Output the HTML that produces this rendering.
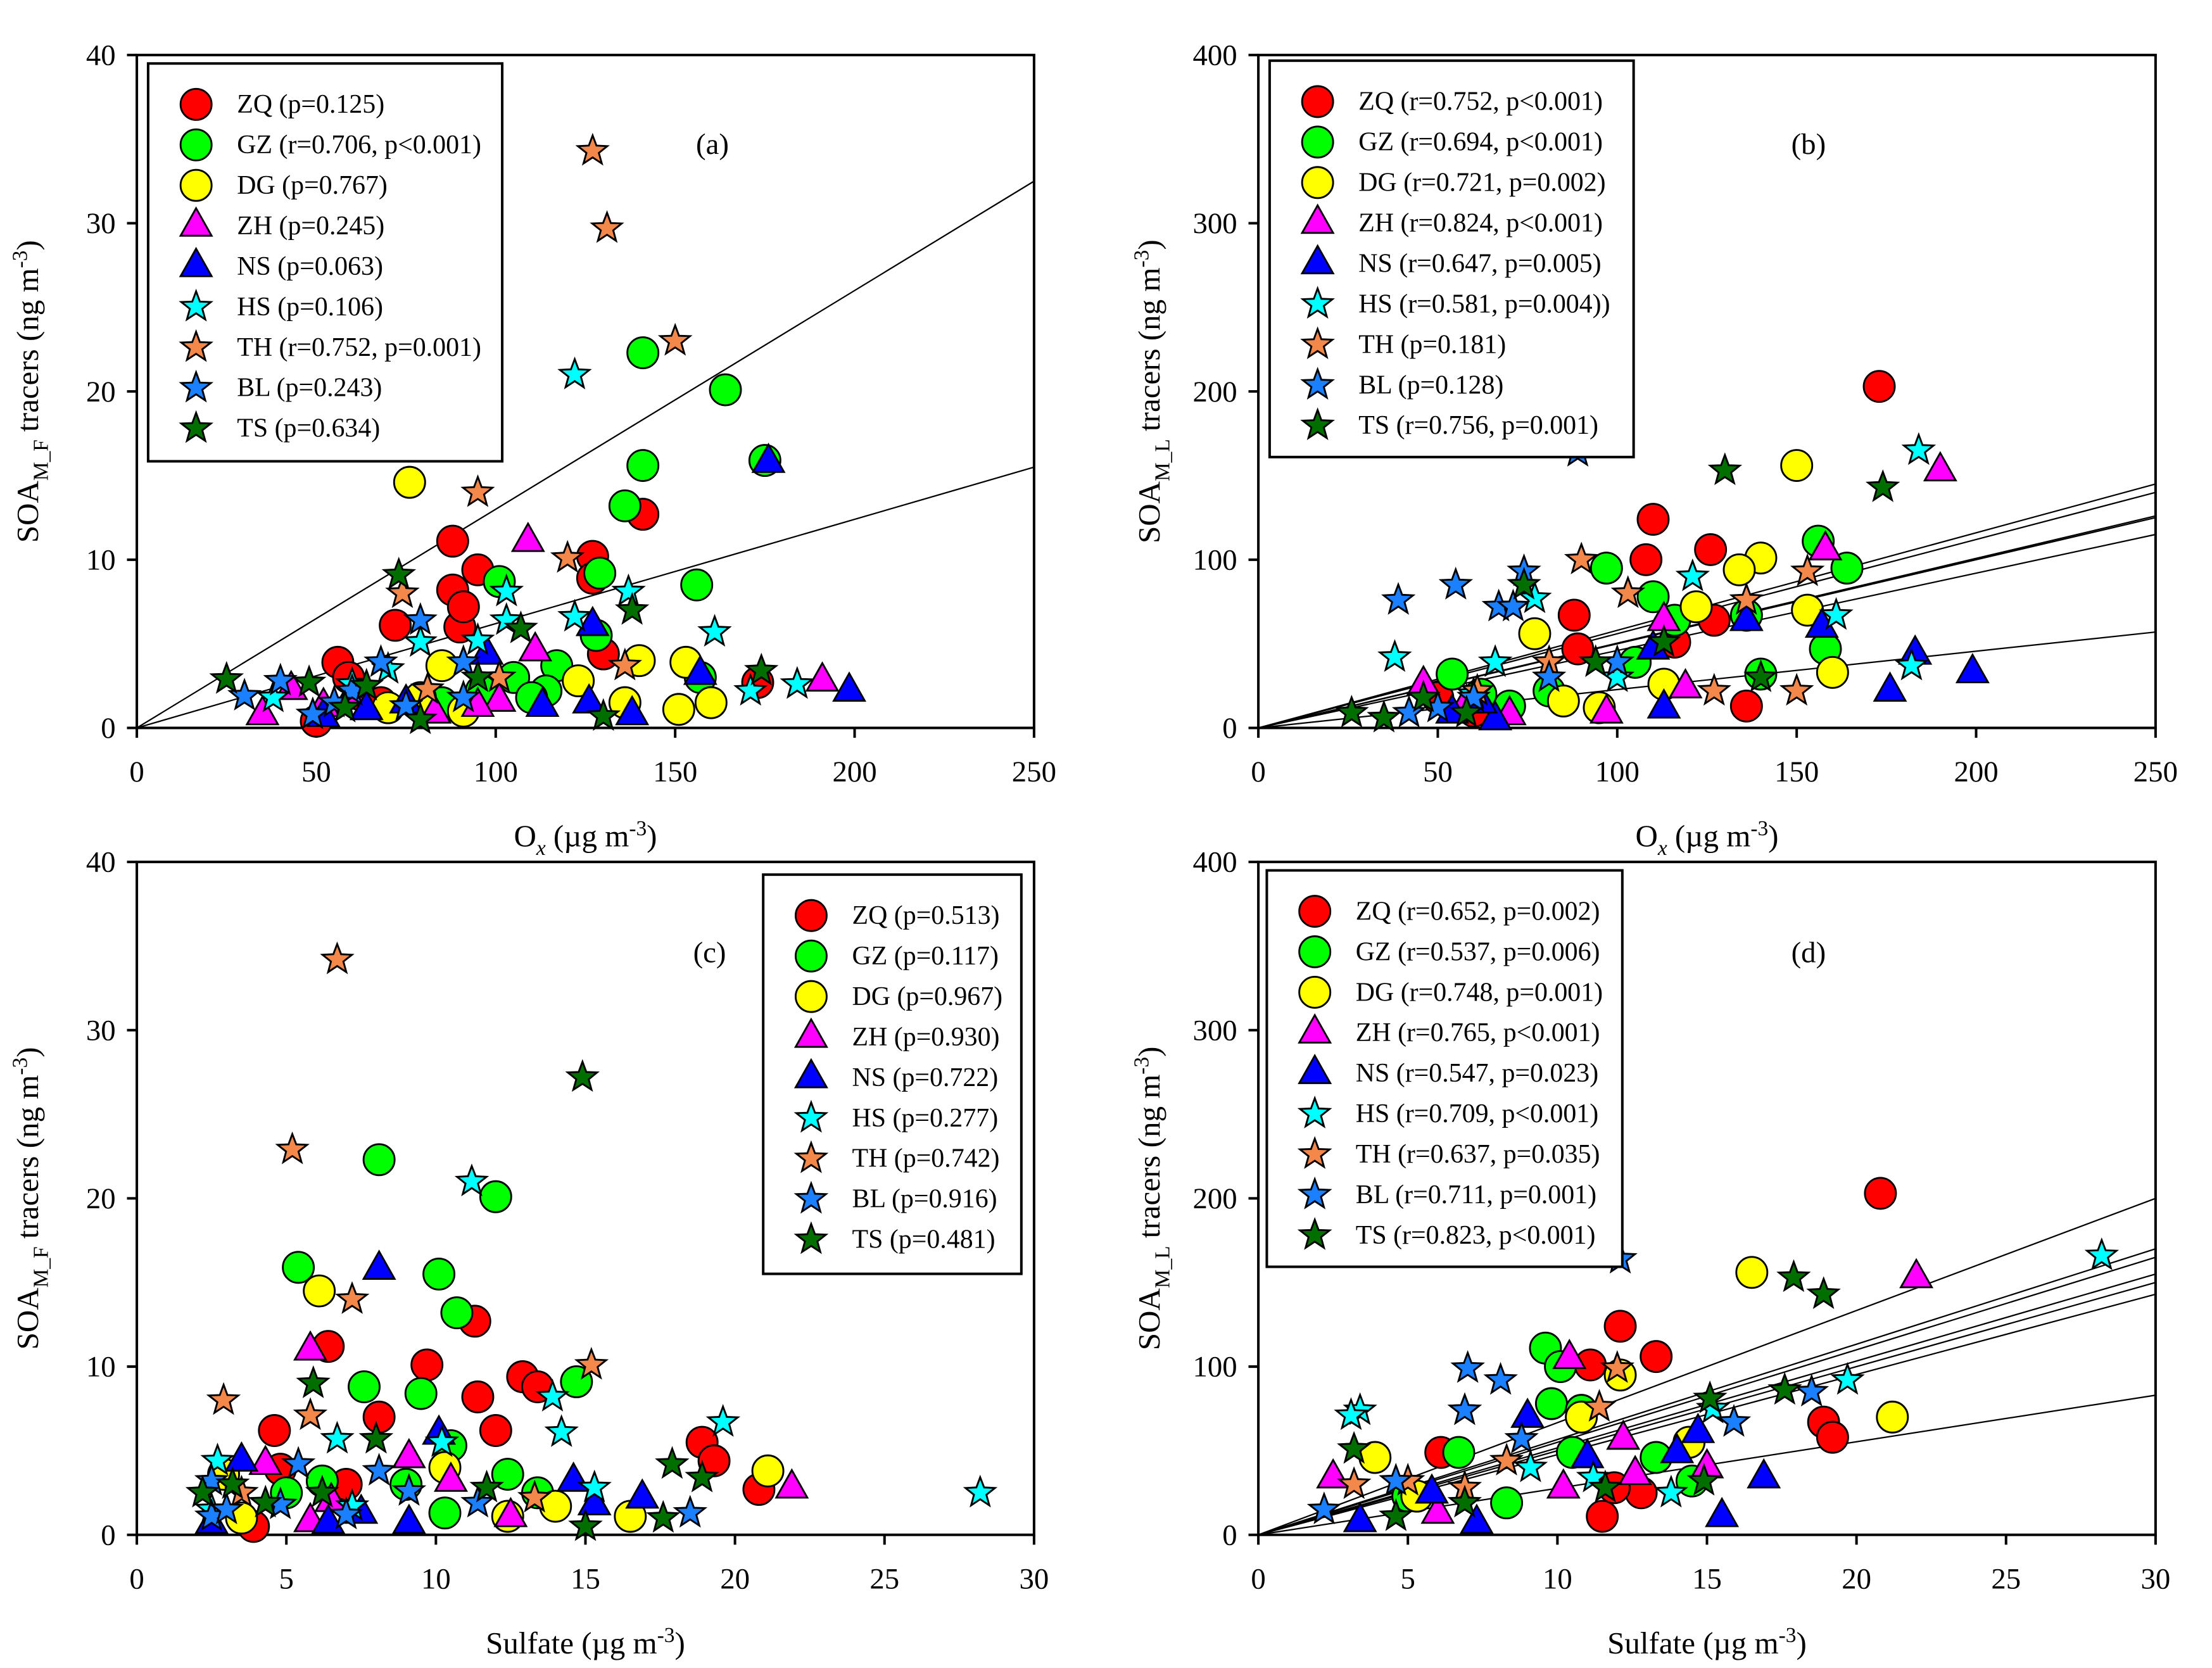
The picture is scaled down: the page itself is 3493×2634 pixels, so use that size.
<!DOCTYPE html>
<html><head><meta charset="utf-8"><style>
html,body{margin:0;padding:0;background:#fff;}
svg{display:block;}
svg text{font-family:"Liberation Serif","Times New Roman",serif;}
</style></head><body>
<svg id="fig" width="3493" height="2634" viewBox="0 0 1568 1182.4" preserveAspectRatio="none" xmlns="http://www.w3.org/2000/svg">
<rect x="0" y="0" width="1568" height="1183" fill="#fff"/>
</svg>
<script>
// ---- data ----
const seriesNames = ["ZQ","GZ","DG","ZH","NS","HS","TH","BL","TS"];
// Panel a: Ox vs SOA_M_F
const aZQx=[88,95,88,127,127,141,72,90,91,56,59,130,173,50,62,68], aZQy=[11.1,9.4,8.2,10.2,8.9,12.7,6.1,6.0,7.2,3.9,3.0,4.4,2.7,0.4,2.0,1.5];
const aGZx=[141,164,141,175,136,101,129,156,128,117,96,105,114,157,85,110], aGZy=[22.3,20.1,15.6,15.9,13.2,8.7,9.2,8.5,5.5,3.7,2.2,3.0,2.2,3.0,1.5,1.8];
const aDGx=[76,85,140,153,123,136,151,160,91,79,70], aDGy=[14.6,3.7,4.0,3.9,2.8,1.5,1.1,1.5,1.0,1.8,1.2];
const aZHx=[109,111,191,101,95,83,35,43,52,60], aZHy=[11.1,4.6,2.8,1.6,1.3,0.9,0.8,2.3,1.3,2.0];
const aNSx=[176,127,97.5,157,198.5,126,138,113,64,52,75], aNSy=[15.8,6.1,4.4,3.2,2.2,1.5,0.8,1.3,1.1,0.7,1.5];
const aHSx=[122,137,161,103,95,103,184,171,122,79,38,60,70], aHSy=[21,8.1,5.7,8.1,5.2,6.4,2.6,2.2,6.6,5.1,1.8,2.6,3.5];
const aTHx=[127,131,150,95,74,120,136,101,81], aTHy=[34.3,29.7,23.0,14.0,8.0,10.1,3.7,3.0,2.3];
const aBLx=[79,91,68,60,30,40,49,75,91,55], aBLy=[6.4,3.9,3.9,2.2,1.9,2.8,0.8,1.3,1.8,1.5];
const aTSx=[73,138,107,174,25,130,95,64,48,79,58], aTSy=[9.1,7.0,5.9,3.4,2.9,0.7,3.0,2.5,2.7,0.5,1.2];
const aFitEnd=[32.5,15.5];
// Panel b: Ox vs SOA_M_L
const bZQx=[173,110,126,108,88,136,127,116,89,50,60], bZQy=[203,124,106,100,67,13,64,51,47,18,10];
const bGZx=[156,164,97,110,116,140,158,54,81,136,105,70,62], bGZy=[111,95,95,78,64,32,47,32,22,67,39,13,20];
const bDGx=[150,140,134,122,153,160,77,85,113,95], bDGy=[156,101,94,72,70,33,56,16,26,12];
const bZHx=[190,158,113,119,97,58,46,70], bZHy=[153,106,64,24,9,15,26,8];
const bNSx=[199,183,176,157,113,136,110,66,54,62], bNSy=[33,44,22,60,12,64,47,5,9,15];
const bHSx=[184,161,182,121,77,38,100,66,60], bHSy=[165,67,37,90,77,42,30,39,20];
const bTHx=[90,103,153,150,136,127,81,61], bTHy=[100,80,93,22,76,22,39,22];
const bBLx=[39,55,67,71,74,89,42,60,81,100,50], bBLy=[76,85,72,72,93,164,9,18,30,39,12];
const bTSx=[130,174,74,94,26,46,58,113,140,35], bTSy=[153,143,85,39,9,18,9,51,30,6];
const bFitEnd=[145,140,126,125,115,57];
// Panel c: Sulfate vs SOA_M_F
const cZQx=[11.3,6.4,9.7,12.9,13.4,11.4,8.1,4.6,12.0,18.9,19.3,20.8,4.8,3.9,7.0], cZQy=[12.7,11.2,10.1,9.4,8.8,8.2,7.0,6.2,6.2,5.5,4.4,2.7,3.9,0.5,3.0];
const cGZx=[8.1,12.0,5.4,10.1,10.7,7.6,9.5,14.7,10.5,12.4,13.4,10.3,6.2,5.0,9.0], cGZy=[22.3,20.1,15.9,15.5,13.2,8.8,8.4,9.1,5.3,3.6,2.5,1.3,3.2,2.5,3.0];
const cDGx=[6.1,21.1,16.5,14.0,10.3,2.9,12.4,3.5], cDGy=[14.5,3.8,1.1,1.7,4.0,3.6,1.1,1.0];
const cZHx=[5.8,21.9,9.1,10.5,4.3,12.5,5.8,6.5], cZHy=[11.0,2.8,4.6,3.2,4.2,1.1,0.8,2.0];
const cNSx=[8.1,10.1,14.6,16.9,15.3,9.1,6.4,3.5,2.5,7.5], cNSy=[15.8,6.0,3.2,2.2,1.8,0.7,0.7,4.4,0.7,1.3];
const cHSx=[28.2,11.2,13.9,14.2,19.6,15.3,10.2,6.7,2.7,7.2,2.5], cHSy=[2.5,21.0,8.2,6.1,6.7,2.8,5.5,5.7,4.4,1.7,1.5];
const cTHx=[6.7,5.2,7.2,15.2,2.9,5.8,13.3,3.5], cTHy=[34.2,22.9,14.0,10.1,8.0,7.1,2.2,2.5];
const cBLx=[18.5,9.1,8.1,5.4,2.5,4.8,11.4,2.5,7.0,3.0], cBLy=[1.3,2.6,3.8,4.2,3.2,1.8,1.9,1.1,1.2,1.5];
const cTSx=[14.9,5.9,8.0,17.9,18.9,17.6,15.0,2.2,11.7,4.3,6.2,3.2], cTSy=[27.2,9.0,5.7,4.2,3.4,1.0,0.5,2.5,2.8,1.9,2.5,3.0];
// Panel d: Sulfate vs SOA_M_L
const dZQx=[20.8,12.1,13.3,11.1,18.9,19.2,11.5,12.8,11.9,6.1], dZQy=[203,124,106,101,67,58,11,25,28,49];
const dGZx=[9.6,10.1,9.8,10.8,10.5,13.3,14.5,8.3,6.7,5.0], dGZy=[111,100,78,74,49,46,32,19,49,23];
const dDGx=[16.5,21.2,12.1,10.8,14.4,3.9,5.3], dDGy=[156,70,95,70,55,46,23];
const dZHx=[22.0,10.4,12.2,10.2,12.6,15.0,2.5,6.0], dZHy=[153,105,57,28,36,40,34,13];
const dNSx=[16.9,15.5,14.0,14.7,11.0,9.0,7.3,5.8,3.4], dNSy=[34,11,49,61,46,70,7,25,8];
const dHSx=[28.2,19.7,15.2,13.8,9.1,3.4,3.1,6.9,11.2], dHSy=[166,92,75,25,40,74,71,74,34];
const dTHx=[12.0,11.4,6.9,5.0,3.2,8.3], dTHy=[99,76,28,32,30,44];
const dBLx=[12.1,7.0,8.1,18.5,15.9,6.9,8.8,4.6,2.2], dBLy=[164,99,92,85,67,74,57,32,15];
const dTSx=[17.9,18.9,17.6,15.1,14.9,3.2,11.6,4.6,6.9], dTSy=[153,143,86,81,32,51,28,11,19];
const dFitEnd=[200,170,165,155,150,143,83];
const xTicksOx=[0,50,100,150,200,250], xTicksSul=[0,5,10,15,20,25,30];
const yTicksF=[0,10,20,30,40], yTicksL=[0,100,200,300,400];
const legA=["ZQ (p=0.125)","GZ (r=0.706, p<0.001)","DG (p=0.767)","ZH (p=0.245)","NS (p=0.063)","HS (p=0.106)","TH (r=0.752, p=0.001)","BL (p=0.243)","TS (p=0.634)"];
const legB=["ZQ (r=0.752, p<0.001)","GZ (r=0.694, p<0.001)","DG (r=0.721, p=0.002)","ZH (r=0.824, p<0.001)","NS (r=0.647, p=0.005)","HS (r=0.581, p=0.004))","TH (p=0.181)","BL (p=0.128)","TS (r=0.756, p=0.001)"];
const legC=["ZQ (p=0.513)","GZ (p=0.117)","DG (p=0.967)","ZH (p=0.930)","NS (p=0.722)","HS (p=0.277)","TH (p=0.742)","BL (p=0.916)","TS (p=0.481)"];
const legD=["ZQ (r=0.652, p=0.002)","GZ (r=0.537, p=0.006)","DG (r=0.748, p=0.001)","ZH (r=0.765, p<0.001)","NS (r=0.547, p=0.023)","HS (r=0.709, p<0.001)","TH (r=0.637, p=0.035)","BL (r=0.711, p=0.001)","TS (r=0.823, p<0.001)"];

// ---- drawing ----
const NS="http://www.w3.org/2000/svg";
const svg=document.getElementById('fig');
const colors=["#ff0000","#00ff00","#ffff00","#ff00ff","#0000ff","#00ffff","#f4884a","#1a80ff","#006f00"];
const shapes=["c","c","c","t","t","s","s","s","s"];
function el(tag,attrs,parent){const e=document.createElementNS(NS,tag);for(const k in attrs)e.setAttribute(k,attrs[k]);(parent||svg).appendChild(e);return e;}
function starPath(cx,cy,R){let d="";const r=R*0.42;for(let i=0;i<10;i++){const a=-Math.PI/2+i*Math.PI/5;const rr=i%2?r:R;d+=(i?"L":"M")+(cx+rr*Math.cos(a)).toFixed(1)+","+(cy+rr*Math.sin(a)).toFixed(1);}return d+"Z";}
function marker(g,k,x,y){
  const c=colors[k];let m;
  if(shapes[k]==="c") m=el('ellipse',{cx:x,cy:y,rx:11,ry:11,fill:c,stroke:"#000","stroke-width":1.3},g);
  else if(shapes[k]==="t") m=el('polygon',{points:`${x},${y-12.5} ${x+11},${y+7} ${x-11},${y+7}`,fill:c,stroke:"#000","stroke-width":1.3},g);
  else m=el('path',{d:starPath(x,y,11),fill:c,stroke:"#000","stroke-width":1.3},g);
  return m;
}
function panel(P){
  const g=el('g',{});
  
  
  const sx=v=>P.x0+(v-P.xmin)/(P.xmax-P.xmin)*(P.x1-P.x0);
  const sy=v=>P.y0-(v-P.ymin)/(P.ymax-P.ymin)*(P.y0-P.y1);
  const fr=el('rect',{x:P.x0,y:P.y1,width:P.x1-P.x0,height:P.y0-P.y1,fill:"none",stroke:"#000","stroke-width":1.8},g);
  
  
  P.xt.forEach(v=>{const X=sx(v);el('line',{x1:X,y1:P.y0,x2:X,y2:P.y0+7,stroke:"#000","stroke-width":1.8},g);
    const t=el('text',{x:X,y:P.y0+38,"text-anchor":"middle","font-size":21},g);t.textContent=v;
    
    });
  P.yt.forEach(v=>{const Y=sy(v);el('line',{x1:P.x0-7,y1:Y,x2:P.x0,y2:Y,stroke:"#000","stroke-width":1.8},g);
    const t=el('text',{x:P.x0-15,y:Y+7,"text-anchor":"end","font-size":21},g);t.textContent=v;
    
    });
  (P.fits||[]).forEach(v=>{const l=el('line',{x1:sx(0),y1:sy(0),x2:sx(P.xmax),y2:sy(v),stroke:"#000","stroke-width":1},g);
    
    });
  P.data.forEach((s,k)=>{s[0].forEach((xv,i)=>{const m=marker(g,k,sx(xv),sy(s[1][i]));
    
    });});
  const L=P.leg;
  const lb=el('rect',{x:L.x,y:L.y,width:L.w,height:L.h,fill:"#fff",stroke:"#000","stroke-width":1.8},g);
  
  
  P.labels.forEach((s,k)=>{const Y=L.y+29+k*28.7;const lg=el('g',{},g);
    
    
    marker(lg,k,L.x+34,Y);
    const t=el('text',{x:L.x+63,y:Y+6,"font-size":18.8},lg);t.textContent=s;});
  const pl=el('text',{x:P.lab[0],y:P.lab[1],"text-anchor":"middle","font-size":21},g);pl.textContent=P.tag;
  
  
  const xt=el('text',{x:(P.x0+P.x1)/2,y:P.y0+84,"text-anchor":"middle","font-size":22},g);
  xt.innerHTML=P.xtitle;
  
  
  const yt=el('text',{x:0,y:0,"text-anchor":"middle","font-size":22,transform:`translate(${P.x0-70},${(P.y0+P.y1)/2}) rotate(-90)`},g);
  yt.innerHTML=`SOA<tspan font-size="15" dy="7">${P.sub}</tspan><tspan dy="-7"> tracers (ng m</tspan><tspan font-size="15" dy="-8">-3</tspan><tspan dy="8">)</tspan>`;
  
  
}
const oxT=`O<tspan font-size="15" font-style="italic" dy="6">x</tspan><tspan dy="-6"> (µg m</tspan><tspan font-size="15" dy="-8">-3</tspan><tspan dy="8">)</tspan>`;
const sulT=`Sulfate (µg m<tspan font-size="15" dy="-8">-3</tspan><tspan dy="8">)</tspan>`;
panel({name:'panel-a',tag:'(a)',x0:97,x1:733,y0:516,y1:39,xmin:0,xmax:250,ymin:0,ymax:40,xt:xTicksOx,yt:yTicksF,fits:aFitEnd,sub:'M_F',xtitle:oxT,
  data:[[aZQx,aZQy],[aGZx,aGZy],[aDGx,aDGy],[aZHx,aZHy],[aNSx,aNSy],[aHSx,aHSy],[aTHx,aTHy],[aBLx,aBLy],[aTSx,aTSy]],
  leg:{x:105,y:45,w:251,h:282},labels:legA,lab:[505,109]});
panel({name:'panel-b',tag:'(b)',x0:892,x1:1528,y0:516,y1:39,xmin:0,xmax:250,ymin:0,ymax:400,xt:xTicksOx,yt:yTicksL,fits:bFitEnd,sub:'M_L',xtitle:oxT,
  data:[[bZQx,bZQy],[bGZx,bGZy],[bDGx,bDGy],[bZHx,bZHy],[bNSx,bNSy],[bHSx,bHSy],[bTHx,bTHy],[bBLx,bBLy],[bTSx,bTSy]],
  leg:{x:900,y:43,w:258,h:281},labels:legB,lab:[1282,109]});
panel({name:'panel-c',tag:'(c)',x0:97,x1:733,y0:1088,y1:611,xmin:0,xmax:30,ymin:0,ymax:40,xt:xTicksSul,yt:yTicksF,fits:[],sub:'M_F',xtitle:sulT,
  data:[[cZQx,cZQy],[cGZx,cGZy],[cDGx,cDGy],[cZHx,cZHy],[cNSx,cNSy],[cHSx,cHSy],[cTHx,cTHy],[cBLx,cBLy],[cTSx,cTSy]],
  leg:{x:541,y:620,w:183,h:283},labels:legC,lab:[503,682]});
panel({name:'panel-d',tag:'(d)',x0:892,x1:1528,y0:1088,y1:611,xmin:0,xmax:30,ymin:0,ymax:400,xt:xTicksSul,yt:yTicksL,fits:dFitEnd,sub:'M_L',xtitle:sulT,
  data:[[dZQx,dZQy],[dGZx,dGZy],[dDGx,dDGy],[dZHx,dZHy],[dNSx,dNSy],[dHSx,dHSy],[dTHx,dTHy],[dBLx,dBLy],[dTSx,dTSy]],
  leg:{x:898,y:617,w:252,h:281},labels:legD,lab:[1282,682]});
</script>
</body></html>
